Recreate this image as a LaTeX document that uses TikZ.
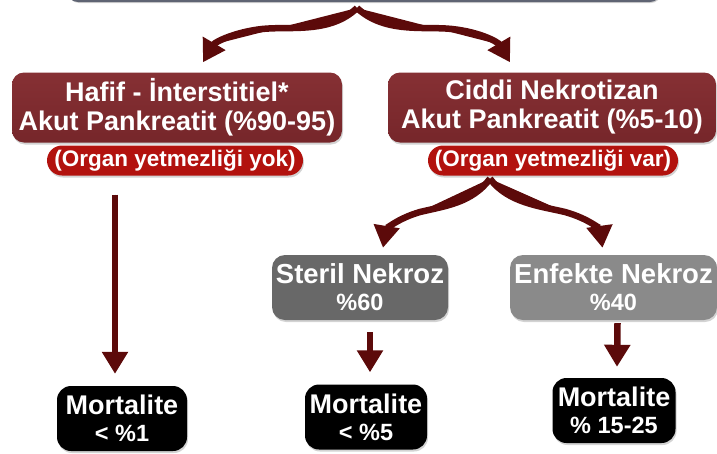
\documentclass[tikz,border=0pt]{standalone}
\usepackage{fontspec}
\setmainfont{Liberation Sans}
\usetikzlibrary{arrows.meta,shadows,calc}
\definecolor{maroonbox}{RGB}{118,38,42}
\definecolor{maroontop}{RGB}{134,48,52}
\definecolor{redpill}{RGB}{178,18,14}
\definecolor{arrowred}{RGB}{92,10,10}
\definecolor{sterilgray}{RGB}{104,104,104}
\definecolor{enfgray}{RGB}{138,138,138}
\definecolor{topedge}{RGB}{95,100,115}
\tikzset{
  boxshadow/.style={drop shadow={opacity=0.35,shadow xshift=1pt,shadow yshift=-2pt}},
  mainbox/.style={boxshadow,rounded corners=12pt,top color=maroontop,bottom color=maroonbox,
    text=white,font=\bfseries\fontsize{27}{29}\selectfont,align=center,inner sep=0pt,
    minimum height=70pt},
  pillbox/.style={boxshadow,rounded corners=15pt,fill=redpill,text=white,
    font=\bfseries\fontsize{22.5}{25}\selectfont,align=center,inner sep=0pt,minimum height=30pt},
  graybox/.style={boxshadow,rounded corners=13pt,text=white,align=center,inner sep=0pt,
    minimum height=65pt,font=\bfseries\fontsize{27.5}{27}\selectfont},
  mortbox/.style={boxshadow,rounded corners=14pt,fill=black,text=white,align=center,inner sep=0pt,
    minimum width=126pt,minimum height=65pt,font=\bfseries\fontsize{27}{27}\selectfont},
  topbox/.style={boxshadow,rounded corners=10pt,fill=white,draw=topedge,line width=2pt},
  arr/.style={draw=arrowred,line width=6.5pt,-{Triangle[width=25pt,length=22pt]},fill=arrowred},
  second/.style={}
}
\newcommand{\lineb}[1]{{\fontsize{23.5}{25}\selectfont #1}}
\begin{document}
\begin{tikzpicture}[x=1pt,y=-1pt]
\useasboundingbox (0,0) rectangle (717,453);
% top (cut off) box
\node[topbox,minimum width=592pt,minimum height=40pt] (top) at (364,-19) {};
% level 1
\node[mainbox,minimum width=330pt] (hafif) at (177,107.5) {Hafif - İnterstitiel*\\Akut Pankreatit (\%90-95)};
\node[pillbox,minimum width=256pt] (pillL) at (175,160.5) {(Organ yetmezliği yok)};
\node[mainbox,minimum width=328pt] (ciddi) at (552,107.5) {Ciddi Nekrotizan\\Akut Pankreatit (\%5-10)};
\node[pillbox,minimum width=250pt] (pillR) at (553,160.5) {(Organ yetmezliği var)};
% level 2
\node[graybox,fill=sterilgray,minimum width=176pt] (steril) at (360,287.5) {Steril Nekroz\\\lineb{\%60}};
\node[graybox,fill=enfgray,minimum width=207pt] (enf) at (613.5,287.5) {Enfekte Nekroz\\\lineb{\%40}};
% mortality
\node[mortbox,minimum width=130pt] (m1) at (122,418.5) {Mortalite\\\lineb{< \%1}};
\node[mortbox,minimum width=122pt] (m2) at (366,417) {Mortalite\\\lineb{< \%5}};
\node[mortbox,minimum width=123pt] (m3) at (614,410.5) {Mortalite\\\lineb{\% 15-25}};
% brace 1
\coordinate (p1) at ($(top.south)+(-7,6)$);
\draw[arr] (p1) .. controls (330,34) and (290,26) .. (262,29) .. controls (235,32) and (215,42) .. ($(hafif.north)+(26,-10)$);
\draw[arr] (p1) .. controls (385,34) and (425,26) .. (452,29) .. controls (480,32) and (498,42) .. ($(ciddi.north)+(-42,-10)$);
% brace 2
\coordinate (p2) at ($(pillR.south)+(-63,3)$);
\draw[arr] (p2) .. controls (472,203) and (445,206) .. (420,212) .. controls (396,219) and (386,230) .. ($(steril.north)+(23,-7)$);
\draw[arr] (p2) .. controls (508,203) and (540,206) .. (565,212) .. controls (590,219) and (600,230) .. ($(enf.north)+(-11,-7)$);
% straight arrows
\draw[arr] ($(pillL.south)+(-60,19)$) -- ($(m1.north)+(-7,-12)$);
\draw[arr] ($(steril.south)+(10,12)$) -- ($(m2.north)+(4,-12)$);
\draw[arr] ($(enf.south)+(4,3)$) -- ($(m3.north)+(3,-11)$);
\end{tikzpicture}
\end{document}
